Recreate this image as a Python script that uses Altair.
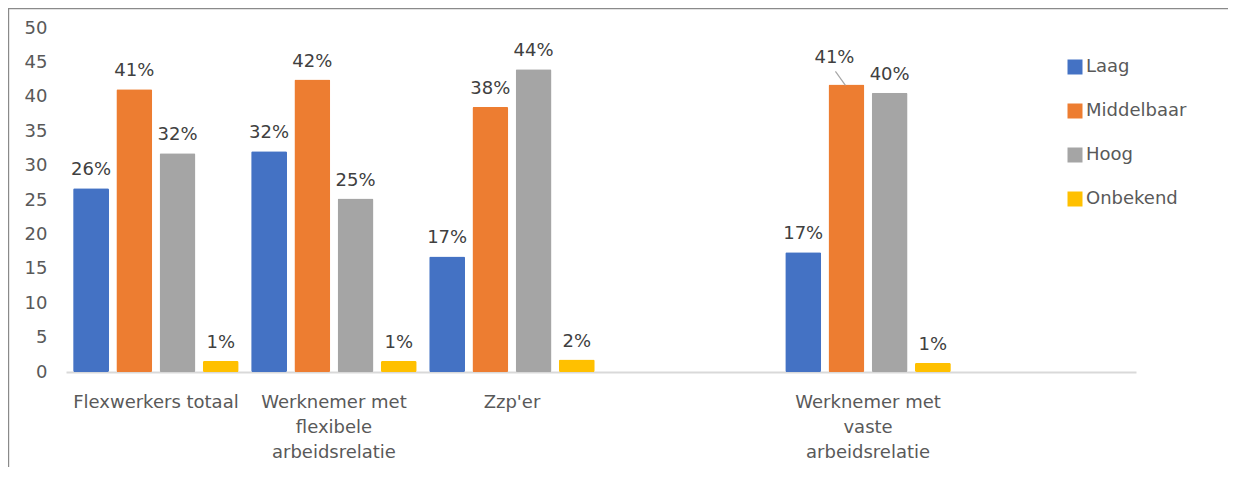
import json
import altair as alt
import pandas as pd

# ---- data -------------------------------------------------------------
categorieen = [
    "Flexwerkers totaal",
    "Werknemer met flexibele arbeidsrelatie",
    "Zzp'er",
    "Werknemer met vaste arbeidsrelatie",
]
# slots on the category axis (two empty slots as in the original chart)
as_slots = [
    "Flexwerkers totaal",
    "Werknemer met flexibele arbeidsrelatie",
    "Zzp'er",
    "leeg 1",
    "Werknemer met vaste arbeidsrelatie",
    "leeg 2",
]
as_regels = {
    "Flexwerkers totaal": ["Flexwerkers totaal"],
    "Werknemer met flexibele arbeidsrelatie": ["Werknemer met", "flexibele", "arbeidsrelatie"],
    "Zzp'er": ["Zzp'er"],
    "Werknemer met vaste arbeidsrelatie": ["Werknemer met", "vaste", "arbeidsrelatie"],
}
niveaus = ["Laag", "Middelbaar", "Hoog", "Onbekend"]
kleuren = ["#4472C4", "#ED7D31", "#A5A5A5", "#FFC000"]

laag = [26.7, 32.1, 16.8, 17.4]
middelbaar = [41.1, 42.5, 38.5, 41.8]
hoog = [31.8, 25.2, 44.0, 40.6]
onbekend = [1.6, 1.6, 1.8, 1.3]

laag_lbl = ["26%", "32%", "17%", "17%"]
middelbaar_lbl = ["41%", "42%", "38%", "41%"]
hoog_lbl = ["32%", "25%", "44%", "40%"]
onbekend_lbl = ["1%", "1%", "2%", "1%"]

y_ticks = [0, 5, 10, 15, 20, 25, 30, 35, 40, 45, 50]

verplaatst_cat = "Werknemer met vaste arbeidsrelatie"
verplaatst_niv = "Middelbaar"

# ---- table ------------------------------------------------------------
rows = []
for niv, vals, lbls in zip(niveaus, [laag, middelbaar, hoog, onbekend],
                           [laag_lbl, middelbaar_lbl, hoog_lbl, onbekend_lbl]):
    for cat, v, l in zip(categorieen, vals, lbls):
        rows.append({"cat": cat, "niveau": niv, "waarde": v, "label": l,
                     "verplaatst": bool(cat == verplaatst_cat and niv == verplaatst_niv)})
df = pd.DataFrame(rows)

expr = ""
for k, lines in as_regels.items():
    expr += f"datum.value === {json.dumps(k)} ? {json.dumps(lines)} : "
expr += "''"

FONT = "DejaVu Sans"
W, H = 1070, 344
PL, PT, PR, PB = 58, 20, 92, 95

XO_PAD = 0.17
# band position (fraction of the category band) of the centre of the
# "Middelbaar" bar, derived from the offset scale's padding
idx = niveaus.index(verplaatst_niv)
step_frac = 1.0 / (len(niveaus) - XO_PAD)
mid_pos = step_frac * (idx + (1 - XO_PAD) / 2)

x_axis = alt.Axis(labelExpr=expr, labelAngle=0, labelAlign="center",
                  labelBaseline="top", labelPadding=21, labelLineHeight=25,
                  labelLimit=0, ticks=False, domainColor="#D9D9D9",
                  domainWidth=2, labelFontSize=18, labelColor="#595959",
                  labelFont=FONT, grid=False)
x_scale = alt.Scale(domain=as_slots, paddingInner=0.07, paddingOuter=0.04)
x_enc = alt.X("cat:N", title=None, sort=as_slots, scale=x_scale, axis=x_axis)
xo_enc = alt.XOffset("niveau:N", sort=niveaus,
                     scale=alt.Scale(domain=niveaus, paddingInner=XO_PAD, paddingOuter=0.0))
y_enc = alt.Y(
    "waarde:Q",
    title=None,
    scale=alt.Scale(domain=[0, 50], nice=False),
    axis=alt.Axis(values=y_ticks, domain=False, ticks=False, grid=False,
                  labelPadding=19, labelFontSize=18, labelColor="#595959",
                  labelFont=FONT),
)

base = alt.Chart(df)

bars = base.mark_bar(cornerRadius=1.5).encode(
    x=x_enc, xOffset=xo_enc, y=y_enc,
    color=alt.Color(
        "niveau:N", sort=niveaus,
        scale=alt.Scale(domain=niveaus, range=kleuren),
        legend=alt.Legend(
            title=None, orient="none", legendX=1000, legendY=30,
            symbolType="square", symbolSize=225, symbolStrokeWidth=0,
            labelFontSize=18, labelColor="#595959", labelFont=FONT,
            rowPadding=26, labelOffset=2, padding=0,
        ),
    ),
)

labels = base.transform_filter("!datum.verplaatst").mark_text(
    baseline="alphabetic", dy=-13, fontSize=18, font=FONT, color="#404040"
).encode(x=x_enc, xOffset=xo_enc, y=y_enc, text="label:N")

label_v = base.transform_filter("datum.verplaatst").mark_text(
    baseline="alphabetic", dx=-12, dy=-21, fontSize=18, font=FONT, color="#404040"
).encode(x=x_enc, xOffset=xo_enc, y=y_enc, text="label:N")

leader = base.transform_filter("datum.verplaatst").mark_rule(
    color="#A6A6A6", strokeWidth=1.2, xOffset=-11, yOffset=-13, x2Offset=-1, y2Offset=1
).encode(
    x=alt.X("cat:N", bandPosition=mid_pos, scale=x_scale, axis=x_axis, title=None),
    x2=alt.X2("cat:N", bandPosition=mid_pos),
    y=y_enc, y2="waarde:Q",
)

frame_df = pd.DataFrame({"k": [0]})
frame_left = alt.Chart(frame_df).mark_rule(color="#8A8A8A", strokeWidth=1.2).encode(
    x=alt.value(-PL + 0.6), y=alt.value(-PT), y2=alt.value(H + PB)
)
frame_top = alt.Chart(frame_df).mark_rule(color="#8A8A8A", strokeWidth=1.2).encode(
    x=alt.value(-PL), x2=alt.value(W + PR), y=alt.value(-PT + 0.6)
)

chart = alt.layer(bars, labels, label_v, leader, frame_left, frame_top).properties(
    width=W, height=H,
    background="white",
    autosize=alt.AutoSizeParams(type="none"),
    padding={"left": PL, "top": PT, "right": PR, "bottom": PB},
).configure_view(stroke=None, strokeWidth=0)

chart.save("out.html", embed_options={"renderer": "svg", "actions": False})
